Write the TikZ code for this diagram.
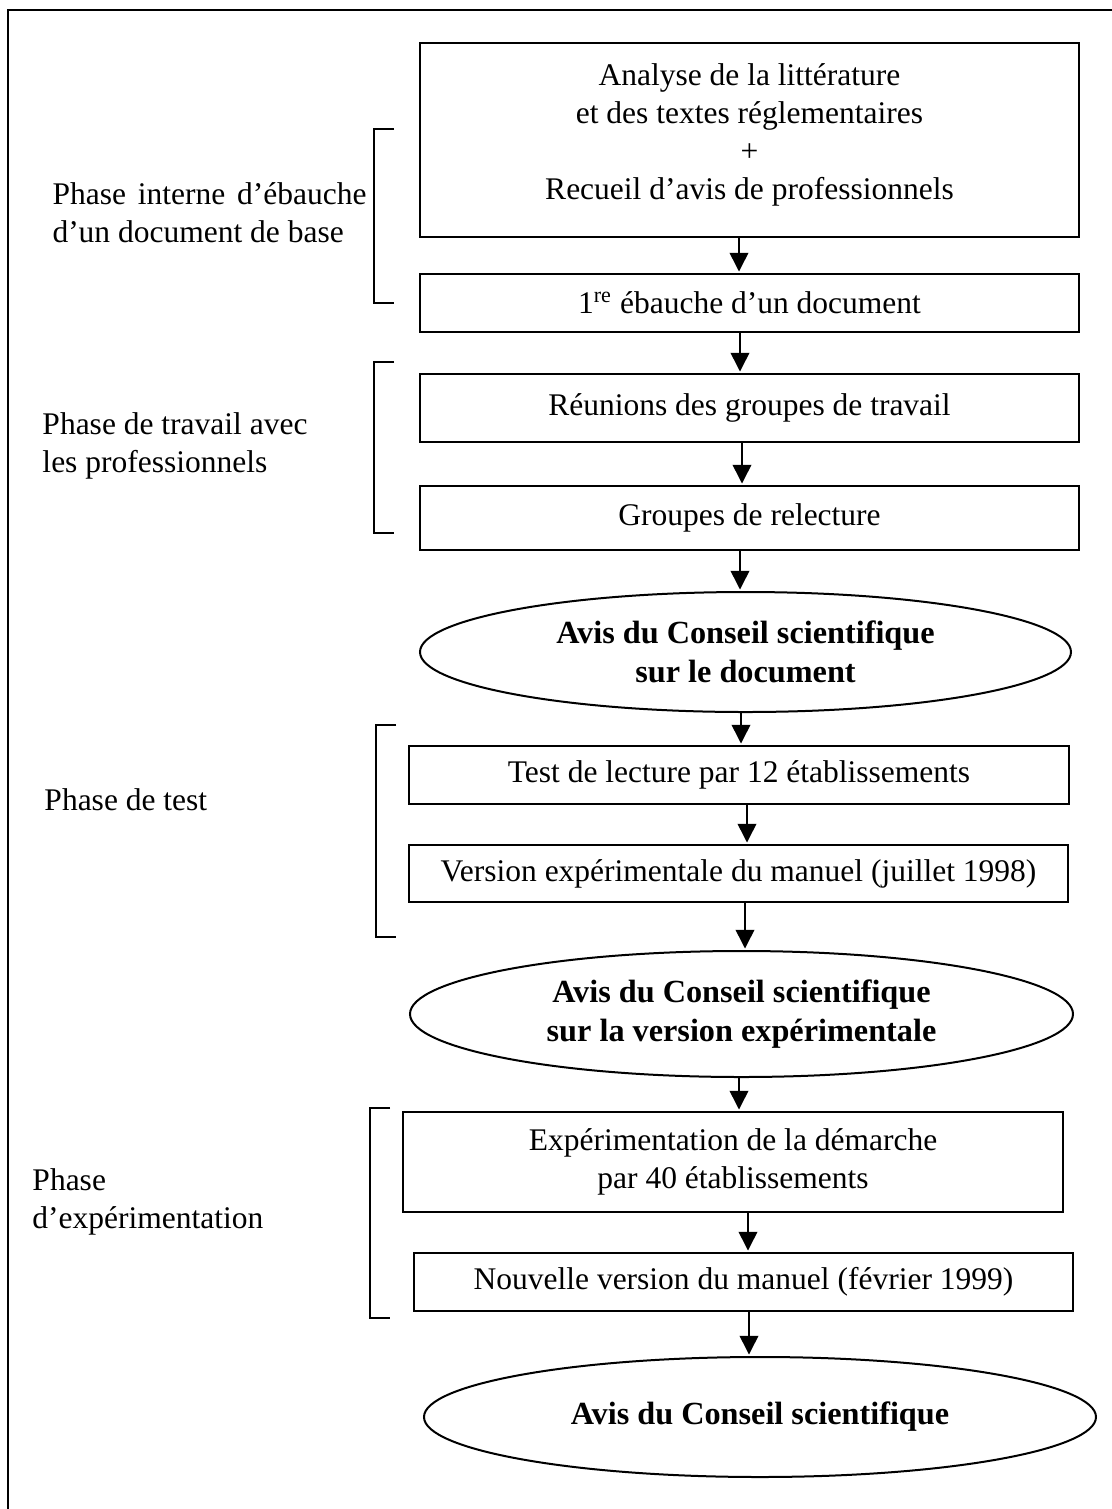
\documentclass[tikz,border=0pt]{standalone}
\usepackage{fontspec}
\setmainfont{Liberation Serif}
\usepackage{tikz}
\usetikzlibrary{arrows.meta,positioning,shapes.geometric}

\begin{document}
\begin{tikzpicture}[
  x=0.4pt, y=-0.4pt,
  font=\fontsize{12.6}{15.2}\selectfont,
  stg/.style={draw, line width=0.8pt, minimum width=263.6pt, minimum height=23.2pt,
              inner sep=0pt, align=center},
  avis/.style={ellipse, draw, line width=0.8pt, inner sep=0pt, align=center,
               font=\fontsize{12.9}{15.6}\selectfont\bfseries},
  phase/.style={anchor=base west, inner sep=0pt, align=left},
  brk/.style={draw, line width=0.8pt},
  ar/.style={-{Triangle[length=7.5pt, width=7.5pt]}, line width=0.6pt, shorten >=0.6pt}
]
\useasboundingbox (0,0) rectangle (1112,1509);
\draw[line width=0.9pt] (8,1509) -- (8,10) -- (1112,10);

\node[stg, minimum height=77.6pt, text depth=7pt] (b1) at (749.5,140) {Analyse de la littérature\\et des textes réglementaires\\+\\Recueil d'avis de professionnels};
\node[stg] (b2) at (749.5,303) {1\textsuperscript{re} ébauche d'un document};
\node[stg, minimum height=27.2pt] (b3) at (749.5,408) {Réunions des groupes de travail};
\node[stg, minimum height=25.6pt] (b4) at (749.5,518) {Groupes de relecture};
\node[avis, minimum width=260.4pt, minimum height=48pt] (e1) at (745.5,652) {Avis du Conseil scientifique\\sur le document};
\node[stg, minimum width=264pt] (b5) at (739,775) {Test de lecture par 12 établissements};
\node[stg, minimum height=22.8pt] (b6) at (738.5,873.5) {Version expérimentale du manuel (juillet 1998)};
\node[avis, minimum width=265.2pt, minimum height=50.4pt] (e2) at (741.5,1014) {Avis du Conseil scientifique\\sur la version expérimentale};
\node[stg, minimum width=264pt, minimum height=40pt] (b7) at (733,1162) {Expérimentation de la démarche\\par 40 établissements};
\node[stg] (b8) at (743.5,1282) {Nouvelle version du manuel (février 1999)};
\node[avis, minimum width=268.8pt, minimum height=48pt] (e3) at (760,1417) {Avis du Conseil scientifique};

\foreach \a/\b/\x in {b1/b2/739, b2/b3/740, b3/b4/742, b4/e1/740, e1/b5/741,
                      b5/b6/747, b6/e2/745, e2/b7/739, b7/b8/748, b8/e3/749}
  \draw[ar] (\a.south -| \x,0) -- (\b.north -| \x,0);

\node[phase, text width=125.6pt, align=justify] (p1) at (52,204) {Phase interne d'ébauche\linebreak d'un document de base};
\node[phase] (p2) at (42,472) {Phase de travail avec\\les professionnels};
\node[phase] (p3) at (44,810) {Phase de test};
\node[phase] (p4) at (32,1228) {Phase\\d'expérimentation};

\foreach \x/\ya/\yb in {374/129/303, 374/362/533, 376/725/937, 370/1108/1318}
  \draw[brk] (\x+20,\ya) -- (\x,\ya) -- (\x,\yb) -- (\x+20,\yb);

\end{tikzpicture}
\end{document}
